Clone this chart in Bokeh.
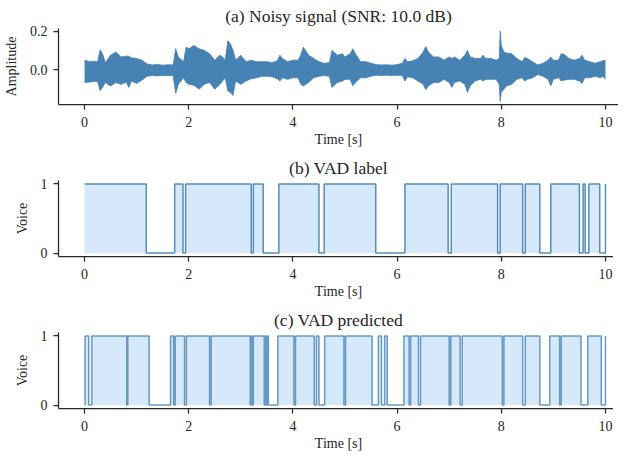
from bokeh.plotting import figure
from bokeh.layouts import column
from bokeh.models import Range1d, FixedTicker, PrintfTickFormatter
from bokeh.embed import file_html
from bokeh.resources import INLINE

# ---- data ----
sig_t = [0.00, 0.10, 0.20, 0.25, 0.30, 0.35, 0.40, 0.50, 0.60, 0.70, 0.80, 0.85, 0.90, 1.00,
         1.10, 1.20, 1.30, 1.40, 1.50, 1.60, 1.70, 1.75, 1.80, 1.90, 1.95, 2.00, 2.10, 2.20,
         2.30, 2.40, 2.50, 2.60, 2.65, 2.70, 2.75, 2.80, 2.85, 2.90, 3.00, 3.10, 3.20, 3.30,
         3.40, 3.50, 3.60, 3.70, 3.75, 3.80, 3.90, 4.00, 4.10, 4.15, 4.20, 4.30, 4.40, 4.50,
         4.60, 4.70, 4.75, 4.85, 4.95, 5.00, 5.10, 5.15, 5.20, 5.30, 5.40, 5.50, 5.60, 5.70,
         5.80, 5.90, 6.00, 6.10, 6.15, 6.20, 6.30, 6.40, 6.50, 6.55, 6.60, 6.70, 6.80, 6.90,
         7.00, 7.05, 7.10, 7.20, 7.30, 7.35, 7.40, 7.50, 7.60, 7.65, 7.70, 7.80, 7.90, 7.96,
         7.98, 8.00, 8.05, 8.10, 8.20, 8.30, 8.40, 8.45, 8.50, 8.60, 8.70, 8.80, 8.90, 8.95,
         9.00, 9.10, 9.15, 9.20, 9.30, 9.40, 9.50, 9.55, 9.60, 9.70, 9.80, 9.90, 9.95, 10.00]
sig_hi = [0.050, 0.042, 0.045, 0.040, 0.104, 0.080, 0.037, 0.076, 0.092, 0.067, 0.071, 0.071, 0.062, 0.059,
          0.050, 0.030, 0.025, 0.028, 0.024, 0.026, 0.025, 0.110, 0.067, 0.042, 0.118, 0.109, 0.126, 0.109,
          0.101, 0.084, 0.050, 0.076, 0.067, 0.050, 0.151, 0.134, 0.101, 0.050, 0.076, 0.042, 0.050, 0.042,
          0.042, 0.042, 0.037, 0.047, 0.076, 0.059, 0.042, 0.050, 0.050, 0.076, 0.118, 0.076, 0.059, 0.042,
          0.034, 0.037, 0.101, 0.076, 0.084, 0.067, 0.084, 0.109, 0.084, 0.042, 0.042, 0.034, 0.027, 0.025,
          0.026, 0.024, 0.027, 0.034, 0.059, 0.042, 0.047, 0.059, 0.092, 0.121, 0.092, 0.067, 0.067, 0.050,
          0.067, 0.059, 0.067, 0.050, 0.076, 0.101, 0.067, 0.059, 0.059, 0.076, 0.059, 0.059, 0.050, 0.059,
          0.202, 0.126, 0.092, 0.087, 0.084, 0.059, 0.042, 0.064, 0.059, 0.042, 0.025, 0.034, 0.050, 0.067,
          0.050, 0.050, 0.084, 0.081, 0.059, 0.050, 0.059, 0.076, 0.050, 0.042, 0.034, 0.042, 0.047, 0.050]
sig_lo = [-0.067, -0.064, -0.060, -0.062, -0.109, -0.090, -0.067, -0.084, -0.067, -0.076, -0.064, -0.092, -0.059, -0.071,
          -0.054, -0.034, -0.030, -0.032, -0.030, -0.031, -0.030, -0.123, -0.076, -0.042, -0.067, -0.076, -0.081, -0.101,
          -0.076, -0.067, -0.101, -0.076, -0.059, -0.042, -0.109, -0.118, -0.134, -0.059, -0.076, -0.059, -0.047, -0.042,
          -0.034, -0.034, -0.037, -0.047, -0.059, -0.042, -0.050, -0.042, -0.042, -0.076, -0.084, -0.067, -0.042, -0.034,
          -0.030, -0.034, -0.092, -0.067, -0.059, -0.050, -0.050, -0.084, -0.067, -0.042, -0.042, -0.034, -0.028, -0.030,
          -0.028, -0.030, -0.028, -0.030, -0.059, -0.037, -0.042, -0.059, -0.076, -0.104, -0.084, -0.067, -0.067, -0.050,
          -0.067, -0.092, -0.067, -0.059, -0.076, -0.118, -0.084, -0.059, -0.050, -0.059, -0.050, -0.050, -0.050, -0.076,
          -0.165, -0.118, -0.101, -0.084, -0.076, -0.050, -0.042, -0.059, -0.050, -0.042, -0.025, -0.034, -0.050, -0.084,
          -0.050, -0.042, -0.059, -0.054, -0.050, -0.050, -0.059, -0.072, -0.042, -0.042, -0.034, -0.042, -0.034, -0.050]

label_t = [0.00, 1.185, 1.73, 1.89, 1.94, 3.20, 3.24, 3.43, 3.73, 4.50, 4.60, 5.59, 6.15, 6.98,
           7.04, 7.93, 7.98, 8.41, 8.46, 8.74, 8.95, 9.50, 9.57, 9.61, 9.68, 9.89, 10.00]
label_v = [1, 0, 1, 0, 1, 0, 1, 0, 1, 0, 1, 0, 1, 0,
           1, 0, 1, 0, 1, 0, 1, 0, 1, 0, 1, 0, 1]

pred_t = [0.00, 0.01, 0.08, 0.14, 0.81, 0.83, 1.24, 1.65, 1.71, 1.74, 1.92, 1.955, 2.40, 2.43,
          3.18, 3.20, 3.22, 3.24, 3.45, 3.47, 3.49, 3.51, 3.53, 3.71, 4.02, 4.05, 4.41, 4.45,
          4.50, 4.61, 4.98, 5.01, 5.52, 5.64, 5.70, 5.76, 5.81, 6.13, 6.23, 6.26, 6.41, 6.45,
          7.00, 7.03, 7.21, 7.25, 8.02, 8.05, 8.41, 8.46, 8.74, 8.93, 9.12, 9.15, 9.53, 9.66,
          9.92, 10.00]
pred_v = [0, 1, 0, 1, 0, 1, 0, 1, 0, 1, 0, 1, 0, 1,
          0, 1, 0, 1, 0, 1, 0, 1, 0, 1, 0, 1, 0, 1,
          0, 1, 0, 1, 0, 1, 0, 1, 0, 1, 0, 1, 0, 1,
          0, 1, 0, 1, 0, 1, 0, 1, 0, 1, 0, 1, 0, 1,
          0, 1]

x_ticks = [0, 2, 4, 6, 8, 10]
titles = ["(a) Noisy signal (SNR: 10.0 dB)", "(b) VAD label", "(c) VAD predicted"]

# ---- styling ----
FONT = "Liberation Serif"
TXT = "#262626"
BLUE = "#4682b4"
FILL = "#d6e9fb"


def make_fig(title, ylabel, yr, yticks, fmt, bottom):
    p = figure(frame_width=560, frame_height=76,
               x_range=Range1d(-0.5, 10.25), y_range=Range1d(*yr),
               output_backend="svg", toolbar_location=None,
               min_border_left=53, min_border_right=0,
               min_border_top=0, min_border_bottom=bottom)
    p.title.text = title
    p.title.align = "center"
    p.title.text_font = FONT
    p.title.text_font_size = "17.5px"
    p.title.text_font_style = "normal"
    p.title.text_color = TXT
    p.title.standoff = 6
    p.outline_line_color = None
    p.grid.visible = False
    for ax in (p.xaxis, p.yaxis):
        ax.axis_line_color = TXT
        ax.axis_line_width = 1.25
        ax.major_tick_line_color = TXT
        ax.major_tick_line_width = 1.25
        ax.major_tick_in = 0
        ax.major_tick_out = 5
        ax.minor_tick_line_color = None
        ax.major_label_text_font = FONT
        ax.major_label_text_font_size = "14px"
        ax.major_label_text_color = TXT
        ax.axis_label_text_font = FONT
        ax.axis_label_text_font_size = "14px"
        ax.axis_label_text_font_style = "normal"
        ax.axis_label_text_color = TXT
    p.xaxis.major_label_standoff = 7
    p.yaxis.major_label_standoff = 6
    p.xaxis.ticker = FixedTicker(ticks=x_ticks)
    p.xaxis.axis_label = "Time [s]"
    p.xaxis.axis_label_standoff = 2
    p.yaxis.ticker = FixedTicker(ticks=yticks)
    p.yaxis.formatter = PrintfTickFormatter(format=fmt)
    p.yaxis.axis_label = ylabel
    p.yaxis.axis_label_standoff = 8
    return p


p1 = make_fig(titles[0], "Amplitude", (-0.181, 0.215), [0.0, 0.2], "%.1f", 48)
p1.varea(x=sig_t, y1=sig_lo, y2=sig_hi, fill_color=BLUE)
p1.line(x=sig_t, y=sig_hi, line_color=BLUE, line_width=0.8)
p1.line(x=sig_t, y=sig_lo, line_color=BLUE, line_width=0.8)

p2 = make_fig(titles[1], "Voice", (-0.05, 1.05), [0, 1], "%d", 48)
p2.varea_step(x=label_t, y1=[0] * len(label_t), y2=label_v, step_mode="after", fill_color=FILL)
p2.step(x=label_t, y=label_v, mode="after", line_color=BLUE, line_width=1.5, line_alpha=0.9)

p3 = make_fig(titles[2], "Voice", (-0.05, 1.05), [0, 1], "%d", 0)
p3.varea_step(x=pred_t, y1=[0] * len(pred_t), y2=pred_v, step_mode="after", fill_color=FILL)
p3.step(x=pred_t, y=pred_v, mode="after", line_color=BLUE, line_width=1.5, line_alpha=0.8)

layout = column(p1, p2, p3, spacing=0)
open("out.html", "w").write(file_html(layout, INLINE))
